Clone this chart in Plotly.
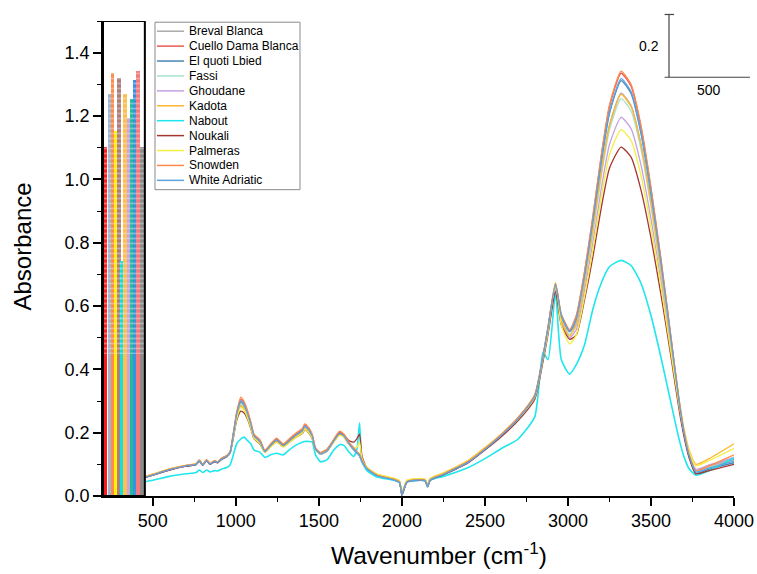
import plotly.graph_objects as go

# ---------------------------------------------------------------- data
wavenumber = [450, 500, 600, 700, 760, 780, 800, 823, 845, 870, 890, 915, 945, 965,
              985, 1005, 1030, 1050, 1070, 1090, 1110, 1145, 1175, 1210, 1245, 1285, 1320,
              1360, 1400, 1415, 1440, 1460, 1480, 1510, 1550, 1590, 1625, 1650, 1680, 1710,
              1730, 1745, 1760, 1790, 1850, 1950, 1985, 2000, 2010, 2030, 2100, 2140, 2155,
              2170, 2250, 2400, 2500, 2600, 2700, 2800, 2850, 2880, 2925, 2960, 3010, 3050,
              3100, 3150, 3200, 3250, 3320, 3380, 3440, 3500, 3560, 3620, 3670, 3700, 3730,
              3770, 3850, 4000]

breval_blanca = [.059, .067, .084, .096, .101, .112, .099, .113, .102, .110, .107, .118, .126, .138,
                 .192, .254, .295, .284, .258, .225, .187, .170, .140, .158, .175, .158, .172,
                 .190, .204, .218, .206, .187, .147, .133, .143, .173, .196, .188, .165, .147,
                 .136, .128, .109, .086, .065, .052, .044, .006, .019, .045, .051, .049, .031,
                 .051, .069, .108, .147, .191, .243, .314, .440, .528, .662, .565, .518, .545,
                 .680, .845, 1.022, 1.172, 1.272, 1.233, 1.110, .927, .714, .482, .290, .195, .128,
                 .080, .094, .120]

cuello_dama_blanca = [.060, .068, .084, .096, .101, .113, .099, .114, .102, .111, .107, .119, .127, .139,
                      .197, .261, .305, .293, .266, .231, .192, .175, .143, .162, .180, .162, .177,
                      .195, .210, .224, .212, .192, .150, .135, .146, .177, .202, .193, .169, .150,
                      .138, .130, .110, .087, .065, .052, .044, .006, .018, .045, .051, .049, .030,
                      .051, .069, .108, .148, .193, .246, .318, .443, .533, .670, .572, .522, .567,
                      .706, .880, 1.070, 1.229, 1.335, 1.294, 1.164, .970, .746, .502, .298, .198, .128,
                      .078, .090, .115]

el_quoti_lbied = [.058, .066, .082, .094, .099, .110, .097, .111, .100, .108, .105, .116, .124, .136,
                  .193, .256, .299, .287, .260, .226, .188, .171, .140, .159, .176, .159, .173,
                  .191, .205, .219, .207, .188, .146, .132, .142, .173, .197, .189, .165, .146,
                  .134, .126, .106, .084, .063, .050, .042, .002, .016, .043, .049, .047, .028,
                  .049, .067, .106, .146, .190, .242, .313, .438, .528, .665, .568, .520, .557,
                  .694, .865, 1.051, 1.208, 1.312, 1.271, 1.144, .954, .734, .494, .293, .192, .124,
                  .072, .085, .105]

fassi = [.059, .067, .083, .095, .100, .111, .098, .112, .101, .109, .106, .117, .125, .137,
         .190, .250, .290, .279, .254, .221, .185, .168, .139, .157, .173, .157, .171,
         .188, .202, .216, .204, .185, .146, .132, .142, .172, .194, .186, .164, .146,
         .135, .127, .107, .085, .064, .051, .043, .005, .018, .044, .050, .048, .030,
         .050, .068, .107, .146, .190, .241, .311, .435, .522, .655, .555, .510, .537,
         .667, .830, 1.007, 1.156, 1.255, 1.216, 1.095, .914, .704, .477, .287, .193, .126,
         .078, .090, .112]

ghoudane = [.060, .068, .084, .096, .101, .112, .099, .113, .102, .110, .107, .118, .126, .137,
            .188, .247, .285, .275, .250, .218, .183, .167, .138, .156, .172, .156, .170,
            .187, .200, .214, .202, .184, .146, .133, .143, .171, .193, .186, .164, .147,
            .137, .129, .110, .088, .067, .054, .046, .008, .021, .047, .053, .051, .033,
            .053, .071, .110, .150, .193, .243, .312, .432, .516, .650, .548, .500, .525,
            .650, .800, .968, 1.110, 1.196, 1.160, 1.045, .875, .678, .463, .283, .195, .130,
            .085, .098, .122]

kadota = [.061, .069, .086, .097, .102, .112, .100, .113, .103, .111, .108, .119, .127, .138,
          .188, .246, .285, .275, .250, .218, .183, .167, .138, .156, .172, .156, .170,
          .187, .200, .213, .202, .184, .146, .133, .143, .171, .193, .186, .164, .147,
          .138, .131, .112, .090, .069, .056, .048, .010, .023, .049, .055, .053, .035,
          .055, .073, .113, .153, .197, .248, .318, .440, .525, .660, .556, .505, .542,
          .676, .840, 1.018, 1.168, 1.268, 1.230, 1.108, .925, .716, .492, .304, .210, .145,
          .100, .118, .165]

nabout = [.045, .050, .062, .070, .074, .082, .074, .082, .076, .080, .079, .085, .090, .098,
          .130, .165, .180, .186, .175, .165, .145, .138, .122, .130, .135, .130, .145,
          .160, .170, .172, .172, .170, .130, .108, .115, .145, .162, .160, .140, .125,
          .150, .231, .110, .080, .060, .050, .043, .012, .022, .044, .050, .048, .035,
          .050, .062, .090, .118, .150, .180, .250, .455, .430, .640, .430, .385, .415,
          .478, .590, .672, .724, .744, .728, .672, .570, .438, .295, .178, .122, .086,
          .066, .080, .120]

noukali = [.058, .066, .082, .094, .099, .110, .097, .111, .100, .108, .105, .116, .124, .135,
           .183, .238, .268, .262, .243, .213, .180, .165, .139, .156, .171, .156, .169,
           .185, .197, .209, .199, .181, .148, .137, .148, .175, .197, .192, .175, .170,
           .182, .195, .125, .088, .066, .053, .045, .003, .016, .044, .050, .048, .030,
           .050, .067, .105, .145, .188, .238, .305, .425, .510, .645, .540, .495, .508,
           .620, .755, .908, 1.035, 1.102, 1.070, .966, .815, .637, .441, .270, .185, .120,
           .070, .080, .100]

palmeras = [.061, .069, .085, .097, .102, .112, .100, .113, .103, .111, .108, .119, .126, .137,
            .186, .243, .280, .271, .247, .216, .182, .166, .138, .155, .170, .155, .168,
            .185, .198, .210, .200, .182, .146, .134, .144, .171, .192, .186, .166, .152,
            .155, .170, .118, .090, .069, .056, .048, .010, .023, .049, .055, .053, .035,
            .055, .073, .112, .152, .195, .244, .312, .435, .518, .675, .540, .480, .508,
            .630, .778, .940, 1.078, 1.157, 1.123, 1.012, .850, .662, .455, .284, .200, .140,
            .095, .112, .150]

snowden = [.060, .068, .085, .097, .102, .114, .100, .115, .103, .112, .108, .120, .128, .140,
           .200, .265, .312, .298, .270, .235, .195, .178, .145, .165, .183, .165, .180,
           .198, .213, .228, .215, .195, .152, .137, .148, .180, .205, .196, .172, .152,
           .140, .132, .112, .088, .066, .053, .045, .008, .020, .046, .052, .050, .032,
           .052, .070, .110, .150, .195, .248, .320, .445, .535, .672, .575, .525, .570,
           .710, .885, 1.075, 1.235, 1.342, 1.300, 1.170, .975, .750, .505, .300, .200, .130,
           .080, .095, .130]

white_adriatic = [.058, .066, .083, .095, .100, .111, .098, .112, .101, .109, .106, .117, .125, .137,
                  .194, .257, .300, .288, .261, .227, .189, .172, .140, .160, .177, .160, .174,
                  .192, .206, .221, .208, .189, .147, .133, .143, .174, .198, .190, .166, .147,
                  .136, .128, .108, .085, .064, .051, .043, .004, .018, .044, .050, .048, .030,
                  .050, .068, .107, .147, .192, .244, .315, .440, .530, .668, .570, .520, .560,
                  .697, .869, 1.056, 1.213, 1.318, 1.277, 1.149, .957, .737, .496, .295, .196, .127,
                  .076, .088, .110]

series_names = ["Breval Blanca", "Cuello Dama Blanca", "El quoti Lbied", "Fassi", "Ghoudane",
                "Kadota", "Nabout", "Noukali", "Palmeras", "Snowden", "White Adriatic"]
series_values = [breval_blanca, cuello_dama_blanca, el_quoti_lbied, fassi, ghoudane,
                 kadota, nabout, noukali, palmeras, snowden, white_adriatic]
series_colors = ["#a9a9a9", "#ea5a55", "#4a86b8", "#a8e2cc", "#c6a2e2",
                 "#ffb733", "#1ee6ee", "#a5362f", "#f4ef3e", "#ff8a4a", "#5ea2e2"]

# far-IR block: one column per recorded band maximum
band_centers = [217, 238, 256, 276, 297, 314, 332, 352, 370, 389, 410, 437]
band_heights = [1.103, 1.270, 1.337, 1.154, 1.321, 0.743, 1.270, 1.195, 1.255, 1.315, 1.343, 1.103]
band_colors = ["#ff1a1a", "#9db7d3", "#ff8a4a", "#fff200", "#b07d7d", "#10e0e0",
               "#ffc04a", "#c8a2e2", "#1fbf93", "#3a8fe6", "#f47b7b", "#8c8c8c"]
band_mix_level = 0.45

x_ticks = [500, 1000, 1500, 2000, 2500, 3000, 3500, 4000]
x_minor = [750, 1250, 1750, 2250, 2750, 3250, 3750]
y_ticks = [0.0, 0.2, 0.4, 0.6, 0.8, 1.0, 1.2, 1.4]

# ---------------------------------------------------------------- figure
FONT = "Arial, Liberation Sans, sans-serif"
fig = go.Figure()

# coloured columns of the far-IR block
fig.add_trace(go.Bar(
    x=band_centers, y=band_heights, width=[20] * 11 + [28],
    marker=dict(color=band_colors, line=dict(width=0)),
    showlegend=False, hoverinfo="skip"))
# pale streaks across the upper part of the columns
fig.add_trace(go.Bar(
    x=band_centers, y=[h - band_mix_level for h in band_heights], base=band_mix_level,
    width=[20] * 11 + [28],
    marker=dict(color="rgba(0,0,0,0)", line=dict(width=0),
                pattern=dict(shape="-", fgcolor="rgba(232,232,232,0.85)", size=5, solidity=0.35)),
    showlegend=False, hoverinfo="skip"))

for name, vals, col in zip(series_names, series_values, series_colors):
    fig.add_trace(go.Scatter(
        x=wavenumber, y=vals, mode="lines", name=name,
        line=dict(color=col, width=1.6 if name == "Nabout" else 1.3,
                  shape="spline", smoothing=0.55),
        showlegend=False))

# frame round the far-IR block
fig.add_shape(type="rect", xref="x", yref="y", x0=200, x1=452, y0=0, y1=1.5,
              line=dict(color="black", width=2), fillcolor="rgba(0,0,0,0)", layer="above")

# legend box drawn by hand
L_X0, L_X1, L_Y1, L_Y0 = 0.0824, 0.3122, 0.9975, 0.6449
fig.add_shape(type="rect", xref="paper", yref="paper", x0=L_X0, x1=L_X1, y0=L_Y0, y1=L_Y1,
              line=dict(color="#8a8a8a", width=1), fillcolor="white", layer="above")
row_h = 14.9 / 474.5
for i, (name, col) in enumerate(zip(series_names, series_colors)):
    yy = L_Y1 - (9.0 / 474.5) - i * row_h
    fig.add_shape(type="line", xref="paper", yref="paper", x0=0.0855, x1=0.1283, y0=yy, y1=yy,
                  line=dict(color=col, width=1.5), layer="above")
    fig.add_annotation(text=name, xref="paper", yref="paper", x=0.1330, y=yy,
                       xanchor="left", yanchor="middle", showarrow=False,
                       font=dict(family=FONT, size=12, color="black"))

# scale bar (0.2 absorbance, 500 cm-1)
SB_X, SB_TOP, SB_BOT = 0.897, 1.0137, 0.8816
fig.add_shape(type="line", xref="paper", yref="paper", x0=SB_X, x1=SB_X, y0=SB_BOT, y1=SB_TOP,
              line=dict(color="#444", width=1.2))
fig.add_shape(type="line", xref="paper", yref="paper", x0=SB_X - 0.007, x1=SB_X + 0.008,
              y0=SB_TOP, y1=SB_TOP, line=dict(color="#444", width=1.2))
fig.add_shape(type="line", xref="paper", yref="paper", x0=SB_X - 0.007, x1=1.0253,
              y0=SB_BOT, y1=SB_BOT, line=dict(color="#444", width=1.2))
fig.add_annotation(text="0.2", xref="paper", yref="paper", x=SB_X - 0.012, y=0.947,
                   xanchor="right", yanchor="middle", showarrow=False,
                   font=dict(family=FONT, size=14, color="black"))
fig.add_annotation(text="500", xref="paper", yref="paper", x=0.960, y=0.855,
                   xanchor="center", yanchor="middle", showarrow=False,
                   font=dict(family=FONT, size=14, color="black"))

# axis titles
fig.add_annotation(text="Absorbance", xref="paper", yref="paper", x=-0.127, y=0.525,
                   textangle=-90, xanchor="center", yanchor="middle", showarrow=False,
                   font=dict(family=FONT, size=24, color="black"))
fig.add_annotation(text="Wavenumber (cm<sup>-1</sup>)", xref="paper", yref="paper",
                   x=0.533, y=-0.120, xanchor="center", yanchor="middle", showarrow=False,
                   font=dict(family=FONT, size=24.5, color="black"))

fig.update_layout(
    width=757, height=574,
    margin=dict(l=103, r=23, t=21, b=78, autoexpand=False),
    paper_bgcolor="white", plot_bgcolor="white",
    barmode="overlay", bargap=0,
    font=dict(family=FONT, color="black"),
    xaxis=dict(range=[200, 4000], tickvals=x_ticks, ticks="outside", ticklen=8, tickwidth=1.5,
               tickcolor="black", showline=True, linecolor="black", linewidth=1.6,
               showgrid=False, zeroline=False, tickfont=dict(size=18),
               minor=dict(tickvals=x_minor, ticks="outside", ticklen=4, tickwidth=1.2,
                          tickcolor="black")),
    yaxis=dict(range=[0, 1.5], tickvals=y_ticks, tickformat=".1f", ticks="outside", ticklen=8,
               tickwidth=1.5, tickcolor="black", showline=True, linecolor="black", linewidth=1.6,
               showgrid=False, zeroline=False, tickfont=dict(size=18),
               minor=dict(dtick=0.1, ticks="outside", ticklen=4, tickwidth=1.2, tickcolor="black")),
)

fig.write_html("out.html")
